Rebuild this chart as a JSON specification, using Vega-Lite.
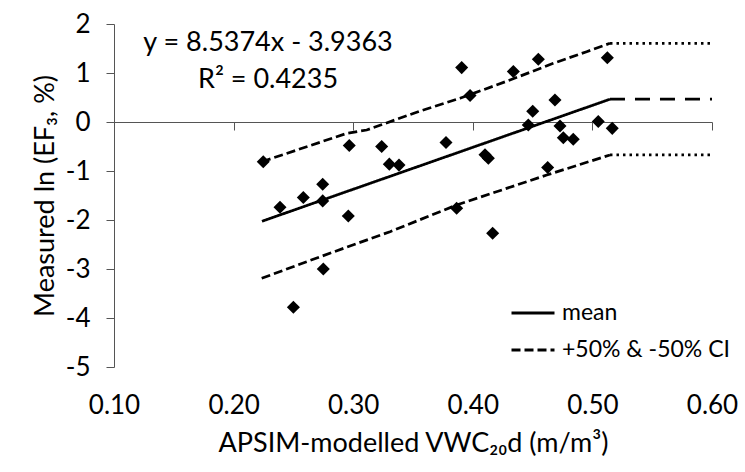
{
  "$schema": "https://vega.github.io/schema/vega-lite/v6.json",
  "width": 598,
  "height": 343,
  "autosize": {"type": "none"},
  "padding": {"left": 114, "top": 24, "right": 33, "bottom": 105},
  "background": "white",
  "config": {
    "view": {"stroke": null},
    "font": "Lato",
    "axis": {"grid": false, "labelFlush": false, "domainColor": "#555555", "tickColor": "#555555", "labelColor": "#000000", "titleColor": "#000000", "labelFont": "Lato", "titleFont": "Lato", "labelFontSize": 26, "titleFontSize": 27, "titleFontWeight": "normal"},
    "legend": {"labelFont": "Lato", "labelFontSize": 23, "labelColor": "#000000", "labelLimit": 0}
  },
  "datasets": {
    "pts": [
      {"x": 0.2248, "y": -0.81}, {"x": 0.2388, "y": -1.74}, {"x": 0.2583, "y": -1.54},
      {"x": 0.2745, "y": -1.27}, {"x": 0.2745, "y": -1.61}, {"x": 0.275, "y": -3.0},
      {"x": 0.25, "y": -3.78}, {"x": 0.2967, "y": -0.48}, {"x": 0.2959, "y": -1.92},
      {"x": 0.3238, "y": -0.5}, {"x": 0.3302, "y": -0.86}, {"x": 0.3383, "y": -0.88},
      {"x": 0.3776, "y": -0.42}, {"x": 0.3907, "y": 1.11}, {"x": 0.3977, "y": 0.54},
      {"x": 0.3865, "y": -1.76}, {"x": 0.4102, "y": -0.67}, {"x": 0.413, "y": -0.74},
      {"x": 0.4166, "y": -2.27}, {"x": 0.4339, "y": 1.03}, {"x": 0.4548, "y": 1.28},
      {"x": 0.4464, "y": -0.06}, {"x": 0.4501, "y": 0.22}, {"x": 0.4687, "y": 0.45},
      {"x": 0.4729, "y": -0.08}, {"x": 0.4757, "y": -0.32}, {"x": 0.484, "y": -0.35},
      {"x": 0.4626, "y": -0.93}, {"x": 0.5049, "y": 0.01}, {"x": 0.5166, "y": -0.13},
      {"x": 0.5125, "y": 1.31}
    ],
    "lines": [
      {"series": "mean", "style": "mean", "x": 0.2237, "y": -2.026},
      {"series": "mean", "style": "mean", "x": 0.5147, "y": 0.465},
      {"series": "upper", "style": "+50% & -50% CI", "x": 0.2237, "y": -0.81},
      {"series": "upper", "style": "+50% & -50% CI", "x": 0.2946, "y": -0.231},
      {"series": "upper", "style": "+50% & -50% CI", "x": 0.3113, "y": -0.163},
      {"series": "upper", "style": "+50% & -50% CI", "x": 0.3559, "y": 0.224},
      {"series": "upper", "style": "+50% & -50% CI", "x": 0.3893, "y": 0.484},
      {"series": "upper", "style": "+50% & -50% CI", "x": 0.4311, "y": 0.857},
      {"series": "upper", "style": "+50% & -50% CI", "x": 0.4673, "y": 1.198},
      {"series": "upper", "style": "+50% & -50% CI", "x": 0.4952, "y": 1.435},
      {"series": "upper", "style": "+50% & -50% CI", "x": 0.5147, "y": 1.606},
      {"series": "lower", "style": "+50% & -50% CI", "x": 0.2235, "y": -3.19},
      {"series": "lower", "style": "+50% & -50% CI", "x": 0.2611, "y": -2.851},
      {"series": "lower", "style": "+50% & -50% CI", "x": 0.2973, "y": -2.531},
      {"series": "lower", "style": "+50% & -50% CI", "x": 0.3308, "y": -2.239},
      {"series": "lower", "style": "+50% & -50% CI", "x": 0.3865, "y": -1.694},
      {"series": "lower", "style": "+50% & -50% CI", "x": 0.4618, "y": -1.082},
      {"series": "lower", "style": "+50% & -50% CI", "x": 0.5147, "y": -0.673},
      {"series": "mean_ext", "style": "mean ext", "x": 0.5147, "y": 0.465},
      {"series": "mean_ext", "style": "mean ext", "x": 0.6, "y": 0.465},
      {"series": "upper_ext", "style": "CI ext", "x": 0.5147, "y": 1.606},
      {"series": "upper_ext", "style": "CI ext", "x": 0.6, "y": 1.606},
      {"series": "lower_ext", "style": "CI ext", "x": 0.5147, "y": -0.673},
      {"series": "lower_ext", "style": "CI ext", "x": 0.6, "y": -0.673}
    ],
    "notes": [
      {"x": 0.2288, "y": 1.61, "label": "y = 8.5374x - 3.9363"},
      {"x": 0.2288, "y": 0.857, "label": "R² = 0.4235"}
    ]
  },
  "layer": [
    {
      "data": {"name": "lines"},
      "mark": {"type": "line", "color": "black", "strokeWidth": 2.75},
      "encoding": {
        "x": {"field": "x", "type": "quantitative", "scale": {"domain": [0.1, 0.6], "nice": false, "zero": false},
              "axis": {"orient": "bottom", "offset": -245, "domain": true, "ticks": true, "tickSize": 8, "labels": false, "title": null, "values": [0.1, 0.2, 0.3, 0.4, 0.5, 0.6]}},
        "y": {"field": "y", "type": "quantitative", "scale": {"domain": [-5, 2], "nice": false, "zero": false},
              "axis": {"values": [-5, -4, -3, -2, -1, 0, 1, 2], "tickSize": 8, "labelPadding": 16, "labelExpr": "replace(datum.label, '−', '-')", "title": "Measured ln (EF₃, %)", "titlePadding": 6}},
        "detail": {"field": "series"},
        "strokeDash": {"field": "style", "type": "nominal",
          "scale": {"domain": ["mean", "+50% & -50% CI", "mean ext", "CI ext"], "range": [[1, 0], [9, 4], [15, 10], [2.5, 4]]},
          "legend": {"values": ["mean", "+50% & -50% CI"], "title": null, "orient": "none", "legendX": 396, "legendY": 266, "padding": 0,
                     "symbolType": "stroke", "symbolSize": 1849, "symbolStrokeWidth": 3, "symbolStrokeColor": "black", "labelOffset": 6, "rowPadding": 2, "labelLimit": 0}}
      }
    },
    {
      "data": {"name": "pts"},
      "mark": {"type": "point", "shape": "diamond", "filled": true, "color": "black", "size": 170, "opacity": 1},
      "encoding": {
        "x": {"field": "x", "type": "quantitative",
              "axis": {"orient": "bottom", "domain": false, "ticks": false, "tickSize": 0, "labelPadding": 25, "labelFlush": false, "values": [0.1, 0.2, 0.3, 0.4, 0.5, 0.6], "format": ".2f", "title": "APSIM-modelled VWC₂₀d (m/m³)", "titlePadding": 12}},
        "y": {"field": "y", "type": "quantitative"}
      }
    },
    {
      "data": {"name": "notes"},
      "mark": {"type": "text", "fontSize": 27, "font": "Lato", "align": "center", "baseline": "middle", "color": "black"},
      "encoding": {
        "x": {"field": "x", "type": "quantitative", "axis": null},
        "y": {"field": "y", "type": "quantitative"},
        "text": {"field": "label"}
      }
    }
  ],
  "resolve": {"axis": {"x": "independent"}}
}
